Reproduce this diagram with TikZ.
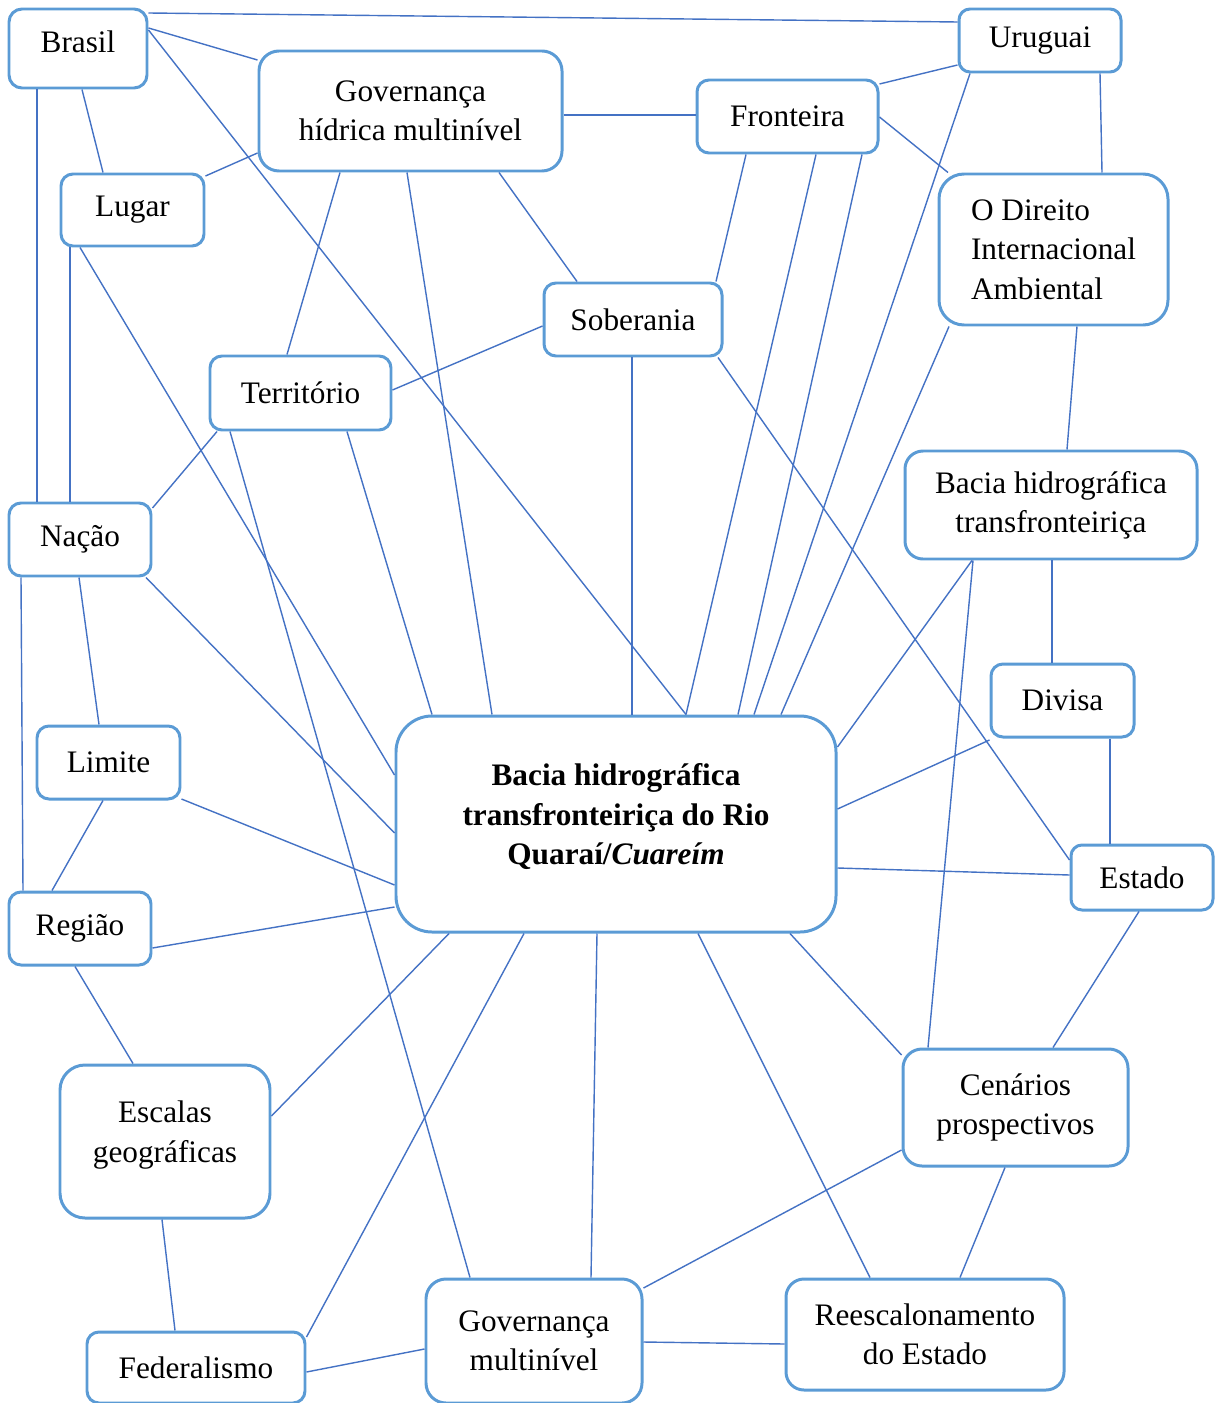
\documentclass[tikz,border=0pt]{standalone}
\usepackage{fontspec}
\setmainfont{Liberation Serif}
\definecolor{boxblue}{RGB}{91,155,213}
\definecolor{linkblue}{RGB}{68,114,196}

\begin{document}
\begin{tikzpicture}[
	box/.style={draw=boxblue,line width=.85pt,rounded corners=#1,align=center,inner sep=0pt,font=\fontsize{8.9}{11.2}\selectfont},
	box/.default=.12cm,
	link/.style={draw=linkblue,line width=.4pt}]
	\useasboundingbox (0,0) rectangle (12.17,-14.03);
	% concepts
	\node[box=.13cm,minimum width=1.38cm,minimum height=.79cm] (brasil) at (.78,-.485) {Brasil\\[-.25cm]};
	\node[box=.11cm,minimum width=1.62cm,minimum height=.63cm] (uruguai) at (10.4,-.405) {Uruguai};
	\node[box=.2cm,minimum width=3.03cm,minimum height=1.2cm] (govh) at (4.105,-1.11) {Governança\\hídrica multinível};
	\node[box,minimum width=1.81cm,minimum height=.73cm] (fronteira) at (7.875,-1.165) {Fronteira};
	\node[box,minimum width=1.43cm,minimum height=.72cm] (lugar) at (1.325,-2.1) {Lugar};
	\node[box=.25cm,minimum width=2.29cm,minimum height=1.51cm,align=left] (direito) at (10.535,-2.495) {O Direito\\Internacional\\Ambiental};
	\node[box,minimum width=1.78cm,minimum height=.73cm] (soberania) at (6.33,-3.195) {Soberania};
	\node[box,minimum width=1.81cm,minimum height=.74cm] (territorio) at (3.005,-3.93) {Território};
	\node[box=.18cm,minimum width=2.92cm,minimum height=1.08cm] (baciat) at (10.51,-5.05) {Bacia hidrográfica\\transfronteiriça};
	\node[box,minimum width=1.42cm,minimum height=.73cm] (nacao) at (.8,-5.395) {Nação};
	\node[box,minimum width=1.43cm,minimum height=.73cm] (divisa) at (10.625,-7.005) {Divisa};
	\node[box,minimum width=1.43cm,minimum height=.73cm] (limite) at (1.085,-7.625) {Limite};
	\node[box=.36cm,minimum width=4.4cm,minimum height=2.16cm] (central) at (6.16,-8.24) {\textbf{Bacia hidrográfica}\\\textbf{transfronteiriça do Rio}\\\textbf{Quaraí/\textit{Cuareím}}\\[-.2cm]};
	\node[box=.11cm,minimum width=1.42cm,minimum height=.65cm] (estado) at (11.42,-8.775) {Estado};
	\node[box,minimum width=1.42cm,minimum height=.73cm] (regiao) at (.8,-9.285) {Região};
	\node[box=.25cm,minimum width=2.1cm,minimum height=1.53cm] (escalas) at (1.65,-11.415) {Escalas\\geográficas\\[-.2cm]};
	\node[box=.19cm,minimum width=2.25cm,minimum height=1.17cm] (cenarios) at (10.155,-11.075) {Cenários\\prospectivos};
	\node[box=.2cm,minimum width=2.16cm,minimum height=1.24cm] (govm) at (5.34,-13.41) {Governança\\multinível};
	\node[box=.18cm,minimum width=2.78cm,minimum height=1.11cm] (reesc) at (9.25,-13.345) {Reescalonamento\\do Estado};
	\node[box,minimum width=2.18cm,minimum height=.71cm] (federalismo) at (1.96,-13.675) {Federalismo};
	% connections
	\draw[link] (brasil.east |- 0,-.13) -- (uruguai.west |- 0,-.22);
	\draw[link] (brasil.east |- 0,-.28) -- (govh.west |- 0,-.6);
	\draw[link] (brasil.south -| .82,0) -- (lugar.north -| 1.03,0);
	\draw[link] (brasil.south -| .37,0) -- (nacao.north -| .37,0);
	\draw[link] (brasil.east |- 0,-.3) -- (central.north -| 6.86,0);
	\draw[link] (uruguai.west |- 0,-.65) -- (fronteira.east |- 0,-.84);
	\draw[link] (uruguai.south -| 11,0) -- (direito.north -| 11.02,0);
	\draw[link] (uruguai.south -| 9.7,0) -- (central.north -| 7.54,0);
	\draw[link] (govh.east |- 0,-1.15) -- (fronteira.west |- 0,-1.15);
	\draw[link] (govh.west |- 0,-1.53) -- (lugar.east |- 0,-1.76);
	\draw[link] (govh.south -| 3.4,0) -- (territorio.north -| 2.87,0);
	\draw[link] (govh.south -| 4.99,0) -- (soberania.north -| 5.77,0);
	\draw[link] (govh.south -| 4.07,0) -- (central.north -| 4.92,0);
	\draw[link] (fronteira.east |- 0,-1.17) -- (direito.north -| 9.48,0);
	\draw[link] (fronteira.south -| 7.46,0) -- (soberania.north -| 7.16,0);
	\draw[link] (fronteira.south -| 8.16,0) -- (central.north -| 6.86,0);
	\draw[link] (fronteira.south -| 8.62,0) -- (central.north -| 7.38,0);
	\draw[link] (lugar.south -| .7,0) -- (nacao.north -| .7,0);
	\draw[link] (lugar.south -| .8,0) -- (central.west |- 0,-7.75);
	\draw[link] (direito.south -| 10.77,0) -- (baciat.north -| 10.67,0);
	\draw[link] (direito.south -| 9.49,0) -- (central.north -| 7.81,0);
	\draw[link] (soberania.west |- 0,-3.26) -- (territorio.east |- 0,-3.9);
	\draw[link] (soberania.south -| 6.32,0) -- (central.north -| 6.32,0);
	\draw[link] (soberania.south -| 7.18,0) -- (estado.west |- 0,-8.6);
	\draw[link] (territorio.south -| 2.17,0) -- (nacao.east |- 0,-5.08);
	\draw[link] (territorio.south -| 3.47,0) -- (central.north -| 4.32,0);
	\draw[link] (territorio.south -| 2.3,0) -- (govm.north -| 4.7,0);
	\draw[link] (baciat.south -| 10.52,0) -- (divisa.north -| 10.52,0);
	\draw[link] (baciat.south -| 9.72,0) -- (central.east |- 0,-7.47);
	\draw[link] (baciat.south -| 9.73,0) -- (cenarios.north -| 9.28,0);
	\draw[link] (nacao.south -| 1.46,0) -- (central.west |- 0,-8.33);
	\draw[link] (nacao.south -| .79,0) -- (limite.north -| .99,0);
	\draw[link] (nacao.south -| .21,0) -- (regiao.north -| .23,0);
	\draw[link] (divisa.west |- 0,-7.4) -- (central.east |- 0,-8.09);
	\draw[link] (divisa.south -| 11.1,0) -- (estado.north -| 11.1,0);
	\draw[link] (limite.south -| 1.03,0) -- (regiao.north -| .52,0);
	\draw[link] (limite.east |- 0,-7.99) -- (central.west |- 0,-8.85);
	\draw[link] (central.east |- 0,-8.68) -- (estado.west |- 0,-8.75);
	\draw[link] (regiao.east |- 0,-9.48) -- (central.west |- 0,-9.07);
	\draw[link] (regiao.south -| .75,0) -- (escalas.north -| 1.33,0);
	\draw[link] (central.south -| 4.49,0) -- (escalas.east |- 0,-11.16);
	\draw[link] (central.south -| 5.24,0) -- (federalismo.east |- 0,-13.37);
	\draw[link] (central.south -| 5.97,0) -- (govm.north -| 5.91,0);
	\draw[link] (central.south -| 6.98,0) -- (reesc.north -| 8.7,0);
	\draw[link] (central.south -| 7.9,0) -- (cenarios.west |- 0,-10.55);
	\draw[link] (estado.south -| 11.39,0) -- (cenarios.north -| 10.53,0);
	\draw[link] (cenarios.west |- 0,-11.5) -- (govm.east |- 0,-12.88);
	\draw[link] (cenarios.south -| 10.05,0) -- (reesc.north -| 9.6,0);
	\draw[link] (escalas.south -| 1.62,0) -- (federalismo.north -| 1.75,0);
	\draw[link] (federalismo.east |- 0,-13.72) -- (govm.west |- 0,-13.49);
	\draw[link] (govm.east |- 0,-13.42) -- (reesc.west |- 0,-13.44);
\end{tikzpicture}
\end{document}
